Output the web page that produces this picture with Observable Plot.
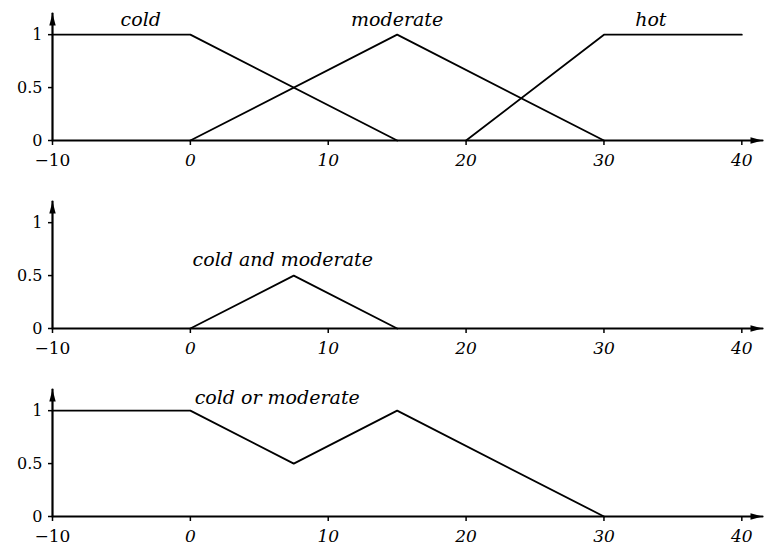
<!DOCTYPE html>
<html>
<head>
<meta charset="utf-8">
<script src="https://cdn.jsdelivr.net/npm/d3@7"></script>
<script src="https://cdn.jsdelivr.net/npm/@observablehq/plot@0.6"></script>
<style>
  html, body { margin: 0; padding: 0; background: #fff; }
  #chart svg { display: block; }
</style>
</head>
<body>
<div id="chart"></div>
<script>
// ---- data ----
const xDomain = [-10, 41.5];
const yDomain = [0, 1.2];
const xTicks = [-10, 0, 10, 20, 30, 40];
const yTicks = [0, 0.5, 1];

const coldX = [-10, 0, 15];
const coldY = [1, 1, 0];
const moderateX = [0, 15, 30];
const moderateY = [0, 1, 0];
const hotX = [20, 30, 40];
const hotY = [0, 1, 1];
const andX = [0, 7.5, 15];
const andY = [0, 0.5, 0];
const orX = [-10, 0, 7.5, 15, 30];
const orY = [1, 1, 0.5, 1, 0];

const panel1Labels = ["cold", "moderate", "hot"];
const panel1LabelX = [-3.6, 15, 33.4];
const panel1LabelY = [1.14, 1.14, 1.14];
const panel2Labels = ["cold and moderate"];
const panel2LabelX = [6.7];
const panel2LabelY = [0.65];
const panel3Labels = ["cold or moderate"];
const panel3LabelX = [6.3];
const panel3LabelY = [1.12];

const toPts = (xs, ys) => xs.map((x, i) => ({x, y: ys[i]}));
const toLabels = (ts, xs, ys) => ts.map((t, i) => ({t, x: xs[i], y: ys[i]}));

function arrowMarker(color, context) {
  const m = d3.create("svg:marker")
    .attr("viewBox", "-12 -4 12 8")
    .attr("markerWidth", 12).attr("markerHeight", 8)
    .attr("markerUnits", "userSpaceOnUse")
    .attr("orient", "auto")
    .attr("refX", 0).attr("refY", 0)
    .attr("overflow", "visible");
  m.append("path").attr("d", "M-12,-3.2L0,0L-12,3.2Z").attr("fill", "black").attr("stroke", "none");
  return m.node();
}

const FONT = "'DejaVu Serif', 'Liberation Serif', serif";

function panel(series, labels, height) {
  return Plot.plot({
    width: 765,
    height,
    marginLeft: 52,
    marginRight: 3,
    marginTop: 13,
    marginBottom: height - 140,
    style: {fontFamily: FONT, fontSize: "16px", color: "black", background: "white"},
    x: {domain: xDomain},
    y: {domain: yDomain},
    marks: [
      Plot.axisY({ticks: yTicks, label: null, tickSize: 4, tickPadding: 6, fontSize: 16, tickFormat: d => String(d), stroke: "black", strokeWidth: 1.5}),
      Plot.axisX({ticks: [xTicks[0]], label: null, tickSize: 5, tickPadding: 8, fontSize: 17, tickFormat: d => "\u2212" + Math.abs(d), stroke: "black", strokeWidth: 1.5}),
      Plot.axisX({ticks: xTicks.slice(1), label: null, tickSize: 5, tickPadding: 8, fontSize: 17, fontStyle: "italic", tickFormat: d => String(d), stroke: "black", strokeWidth: 1.5}),
      Plot.line([{x: xDomain[0], y: yDomain[0]}, {x: xDomain[1], y: yDomain[0]}], {x: "x", y: "y", stroke: "black", strokeWidth: 2.2, markerEnd: arrowMarker}),
      Plot.line([{x: xDomain[0], y: yDomain[0]}, {x: xDomain[0], y: yDomain[1]}], {x: "x", y: "y", stroke: "black", strokeWidth: 2.2, markerEnd: arrowMarker}),
      ...series.map(s => Plot.line(s, {x: "x", y: "y", stroke: "black", strokeWidth: 1.8})),
      Plot.text(labels, {x: "x", y: "y", text: "t", fontStyle: "italic", fontSize: 19, textAnchor: "middle", lineAnchor: "middle", fill: "black"})
    ]
  });
}

const chart = document.getElementById("chart");
chart.append(panel([toPts(coldX, coldY), toPts(moderateX, moderateY), toPts(hotX, hotY)], toLabels(panel1Labels, panel1LabelX, panel1LabelY), 188));
chart.append(panel([toPts(andX, andY)], toLabels(panel2Labels, panel2LabelX, panel2LabelY), 188));
chart.append(panel([toPts(orX, orY)], toLabels(panel3Labels, panel3LabelX, panel3LabelY), 177));
</script>
</body>
</html>
